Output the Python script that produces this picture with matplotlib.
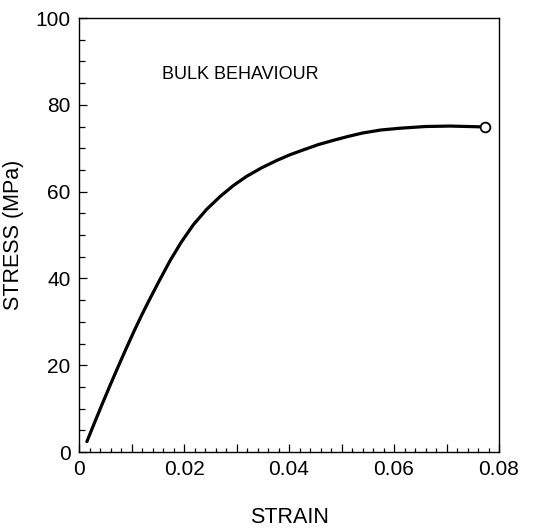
import matplotlib
matplotlib.use("Agg")
import matplotlib.pyplot as plt
from matplotlib.ticker import MultipleLocator, FuncFormatter

plt.rcParams["font.family"] = ["Liberation Sans", "DejaVu Sans"]

# stress-strain curve
strain = [0.0015, 0.0030, 0.0045, 0.0060, 0.0075, 0.0090, 0.0105, 0.0120,
          0.0132, 0.0150, 0.0173, 0.0195, 0.0218, 0.0243, 0.0269, 0.0294,
          0.0319, 0.0348, 0.0377, 0.0402, 0.0427, 0.0455, 0.0484, 0.0512,
          0.0540, 0.0575, 0.0611, 0.0660, 0.0707, 0.0740, 0.0773]
stress = [2.4, 6.9, 11.3, 15.6, 19.8, 23.9, 27.9, 31.7,
          34.6, 38.8, 44.0, 48.4, 52.4, 55.9, 58.9, 61.4,
          63.5, 65.5, 67.2, 68.5, 69.6, 70.8, 71.8, 72.7,
          73.5, 74.2, 74.6, 75.0, 75.1, 75.0, 74.9]
end_strain = [0.0773]
end_stress = [74.9]

fig = plt.figure(figsize=(5.42, 5.28), dpi=100)
ax = fig.add_axes([0.1458, 0.1439, 0.7749, 0.8220])

ax.plot(strain, stress, color="black", linewidth=2.3, solid_capstyle="round",
        solid_joinstyle="round")
ax.plot(end_strain, end_stress, "o", markersize=7, markerfacecolor="white",
        markeredgecolor="black", markeredgewidth=1.3)

ax.set_xlim(0, 0.08)
ax.set_ylim(0, 100)
ax.xaxis.set_major_locator(MultipleLocator(0.01))
ax.xaxis.set_minor_locator(MultipleLocator(0.002))
ax.xaxis.set_major_formatter(FuncFormatter(
    lambda v, _: "" if round(v * 100) % 2 else ("0" if v == 0 else f"{v:.2f}")))
ax.yaxis.set_major_locator(MultipleLocator(20))
ax.yaxis.set_minor_locator(MultipleLocator(5))

ax.tick_params(which="both", direction="in", top=False, right=False,
               labelsize=15, width=0.9)
ax.tick_params(which="major", length=6, pad=6)
ax.tick_params(axis="x", which="minor", length=3)
ax.tick_params(axis="y", which="minor", length=4.5)
for s in ax.spines.values():
    s.set_linewidth(1.0)

ax.set_xlabel("STRAIN", fontsize=15.5, labelpad=20)
ax.set_ylabel("STRESS (MPa)", fontsize=15.5, labelpad=8)
ax.text(0.0158, 86.9, "BULK BEHAVIOUR", fontsize=13, va="center", ha="left")

fig.savefig("out.png", dpi=100)
